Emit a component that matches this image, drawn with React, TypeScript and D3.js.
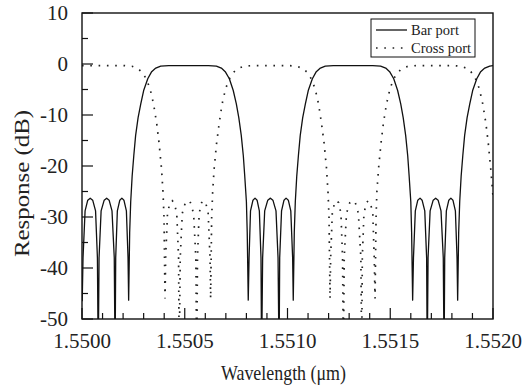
import React from 'react';
import * as d3 from 'd3';

// Bar port response: [wavelength (µm), response (dB)]
const barPort: [number, number][] = [
  [1.550001, -46.5], [1.550005, -38], [1.550015, -28.8], [1.550028, -26.7], [1.55004, -26.3],
  [1.550052, -26.7], [1.550066, -28.8], [1.550075, -38], [1.550079, -58], [1.550083, -38],
  [1.550093, -28.8], [1.550108, -26.7], [1.55012, -26.3], [1.550132, -26.7], [1.550146, -28.8],
  [1.550157, -38], [1.550161, -58], [1.550164, -38], [1.550172, -28.8], [1.550184, -26.7],
  [1.550194, -26.3], [1.550204, -26.7], [1.550216, -28.8], [1.550224, -38], [1.550227, -46.3],
  [1.550232, -33], [1.550237, -27], [1.550244, -22], [1.550252, -18], [1.550261, -14],
  [1.550273, -10.5], [1.550286, -7.8], [1.5503, -5.2], [1.55032, -2.9], [1.550339, -1.5],
  [1.550359, -0.8], [1.550383, -0.4], [1.550422, -0.3],
  [1.550615, -0.3], [1.550654, -0.4], [1.550678, -0.8], [1.550697, -1.5], [1.550717, -2.9],
  [1.550736, -5.2], [1.550751, -7.8], [1.550763, -10.5], [1.550775, -14], [1.550785, -18],
  [1.550792, -22], [1.5508, -27], [1.550804, -33], [1.550809, -46.3],
  [1.550813, -38], [1.55082, -28.8], [1.550832, -26.7], [1.550842, -26.3], [1.550852, -26.7],
  [1.550863, -28.8], [1.550871, -38], [1.550874, -58], [1.550879, -38], [1.550889, -28.8],
  [1.550904, -26.7], [1.550917, -26.3], [1.550929, -26.7], [1.550944, -28.8], [1.550954, -38],
  [1.550959, -58], [1.550962, -38], [1.550971, -28.8], [1.550983, -26.7], [1.550993, -26.3],
  [1.551004, -26.7], [1.551016, -28.8], [1.551025, -38], [1.551028, -46.3],
  [1.551033, -33], [1.551038, -27], [1.551045, -22], [1.551053, -18], [1.551062, -14],
  [1.551074, -10.5], [1.551087, -7.8], [1.551101, -5.2], [1.551121, -2.9], [1.55114, -1.5],
  [1.55116, -0.8], [1.551184, -0.4], [1.551223, -0.3],
  [1.551415, -0.3], [1.551453, -0.4], [1.551478, -0.8], [1.551497, -1.5], [1.551517, -2.9],
  [1.551536, -5.2], [1.551551, -7.8], [1.551563, -10.5], [1.551575, -14], [1.551585, -18],
  [1.551592, -22], [1.5516, -27], [1.551604, -33], [1.551609, -46.3],
  [1.551613, -38], [1.551622, -28.8], [1.551634, -26.7], [1.551645, -26.3], [1.551655, -26.7],
  [1.551668, -28.8], [1.551677, -38], [1.55168, -58], [1.551684, -38], [1.551694, -28.8],
  [1.551709, -26.7], [1.551721, -26.3], [1.551733, -26.7], [1.551747, -28.8], [1.551758, -38],
  [1.551762, -58], [1.551765, -38], [1.551773, -28.8], [1.551785, -26.7], [1.551795, -26.3],
  [1.551805, -26.7], [1.551817, -28.8], [1.551825, -38], [1.551828, -46.3],
  [1.551833, -33], [1.551838, -27], [1.551845, -22], [1.551853, -18], [1.551862, -14],
  [1.551874, -10.5], [1.551887, -7.8], [1.551901, -5.2], [1.551921, -2.9], [1.55194, -1.5],
  [1.55196, -0.8], [1.551984, -0.4], [1.552, -0.3],
];

// Cross port response: [wavelength (µm), response (dB)]
const crossPort: [number, number][] = [
  [1.55, -0.3], [1.5502, -0.3], [1.550243, -0.45], [1.550272, -0.9], [1.550292, -1.6],
  [1.550311, -2.8], [1.550331, -4.8], [1.550348, -7.8], [1.550363, -11.5], [1.550375, -15.5],
  [1.550387, -20.5], [1.550394, -25], [1.550399, -30], [1.550404, -46],
  [1.550407, -38], [1.550416, -29.3], [1.550428, -27.2], [1.550439, -26.8], [1.550449, -27.2],
  [1.550461, -29.3], [1.55047, -38], [1.550473, -58], [1.550478, -38], [1.550488, -29.3],
  [1.550503, -27.2], [1.550516, -26.8], [1.550528, -27.2], [1.550543, -29.3], [1.550554, -38],
  [1.550558, -58], [1.550562, -38], [1.55057, -29.3], [1.550582, -27.2], [1.550592, -26.8],
  [1.550602, -27.2], [1.550614, -29.3], [1.550623, -38], [1.550626, -46],
  [1.550631, -30], [1.550636, -25], [1.550643, -20.5], [1.550655, -15.5], [1.550668, -11.5],
  [1.550682, -7.8], [1.550699, -4.8], [1.550719, -2.8], [1.550738, -1.6], [1.550758, -0.9],
  [1.550787, -0.45], [1.550831, -0.3],
  [1.551002, -0.3], [1.551046, -0.45], [1.551075, -0.9], [1.551095, -1.6], [1.551114, -2.8],
  [1.551134, -4.8], [1.551151, -7.8], [1.551165, -11.5], [1.551178, -15.5], [1.55119, -20.5],
  [1.551197, -25], [1.551202, -30], [1.551207, -46],
  [1.55121, -38], [1.551218, -29.3], [1.551229, -27.2], [1.551239, -26.8], [1.551249, -27.2],
  [1.55126, -29.3], [1.551268, -38], [1.551272, -58], [1.551276, -38], [1.551287, -29.3],
  [1.551303, -27.2], [1.551316, -26.8], [1.55133, -27.2], [1.551345, -29.3], [1.551357, -38],
  [1.551361, -58], [1.551364, -38], [1.551372, -29.3], [1.551384, -27.2], [1.551393, -26.8],
  [1.551403, -27.2], [1.551415, -29.3], [1.551422, -38], [1.551426, -46],
  [1.551431, -30], [1.551435, -25], [1.551443, -20.5], [1.551455, -15.5], [1.551467, -11.5],
  [1.551482, -7.8], [1.551499, -4.8], [1.551518, -2.8], [1.551538, -1.6], [1.551557, -0.9],
  [1.551586, -0.45], [1.55163, -0.3],
  [1.551802, -0.3], [1.551846, -0.45], [1.551875, -0.9], [1.551894, -1.6], [1.551914, -2.8],
  [1.551933, -4.8], [1.55195, -7.8], [1.551965, -11.5], [1.551977, -15.5], [1.551989, -20.5],
  [1.552, -26],
];

const xTickValues = [1.55, 1.5505, 1.551, 1.5515, 1.552];
const xTickLabels = ['1.5500', '1.5505', '1.5510', '1.5515', '1.5520'];
const yTickValues = [-50, -40, -30, -20, -10, 0, 10];
const yTickLabels = ['-50', '-40', '-30', '-20', '-10', '0', '10'];
const seriesNames = ['Bar port', 'Cross port'];
const xTitle = 'Wavelength (\u03bcm)';
const yTitle = 'Response (dB)';

const FONT = "'Liberation Serif', 'DejaVu Serif', serif";

export default function App() {
  const left = 82, right = 493, top = 13, bottom = 319;
  const x = d3.scaleLinear().domain([1.55, 1.552]).range([left, right]);
  const y = d3.scaleLinear().domain([-50, 10]).range([bottom, top]);
  const line = d3.line<[number, number]>().x(d => x(d[0])).y(d => y(d[1]));
  const xMinor = d3.range(0, 21).map(i => 1.55 + i * 0.0001);
  const yMinor = d3.range(-50, 10.01, 5);
  const ts = { fontFamily: FONT };

  return (
    <svg width={523} height={386} style={{ position: 'absolute', left: 0, top: 0, background: '#fff', fontFamily: FONT }}>
      <defs>
        <clipPath id="plot"><rect x={left} y={top} width={right - left} height={bottom - top} /></clipPath>
      </defs>
      <rect x={0} y={0} width={523} height={386} fill="#fff" />
      <g clipPath="url(#plot)">
        <path d={line(crossPort) || ''} fill="none" stroke="#222" strokeWidth={1.7} strokeDasharray="1.6 6.7" />
        <path d={line(barPort) || ''} fill="none" stroke="#111" strokeWidth={1.3} strokeLinejoin="round" />
      </g>
      {xMinor.map((v, i) => (
        <line key={'xm' + i} x1={x(v)} x2={x(v)} y1={bottom} y2={bottom - (i % 5 === 0 ? 11 : 6)} stroke="#111" strokeWidth={1.2} />
      ))}
      {yMinor.map((v, i) => (
        <line key={'ym' + i} x1={left} x2={left + (i % 2 === 0 ? 11 : 6)} y1={y(v)} y2={y(v)} stroke="#111" strokeWidth={1.2} />
      ))}
      <rect x={left} y={top} width={right - left} height={bottom - top} fill="none" stroke="#111" strokeWidth={1.4} />
      {xTickValues.map((v, i) => (
        <text key={'xl' + i} style={ts} x={x(v)} y={348} fontSize={21} textAnchor="middle" fill="#222">{xTickLabels[i]}</text>
      ))}
      {yTickValues.map((v, i) => (
        <text key={'yl' + i} style={ts} x={68} y={y(v) + 7} fontSize={21} textAnchor="end" fill="#222">{yTickLabels[i]}</text>
      ))}
      <text style={ts} x={221} y={380} fontSize={21} textLength={125} lengthAdjust="spacingAndGlyphs" fill="#222">{xTitle}</text>
      <text style={ts} transform={`translate(29,257) rotate(-90)`} fontSize={22} textLength={147} lengthAdjust="spacingAndGlyphs" fill="#222">{yTitle}</text>
      <rect x={371} y={19} width={104} height={38} fill="#fff" stroke="#111" strokeWidth={1} />
      <line x1={376} x2={407} y1={30} y2={30} stroke="#111" strokeWidth={1.3} />
      <line x1={376} x2={408} y1={48} y2={48} stroke="#222" strokeWidth={1.7} strokeDasharray="1.6 6.7" />
      <text style={ts} x={411} y={35} fontSize={14.5} fill="#222">{seriesNames[0]}</text>
      <text style={ts} x={411} y={53} fontSize={14.5} fill="#222">{seriesNames[1]}</text>
    </svg>
  );
}
